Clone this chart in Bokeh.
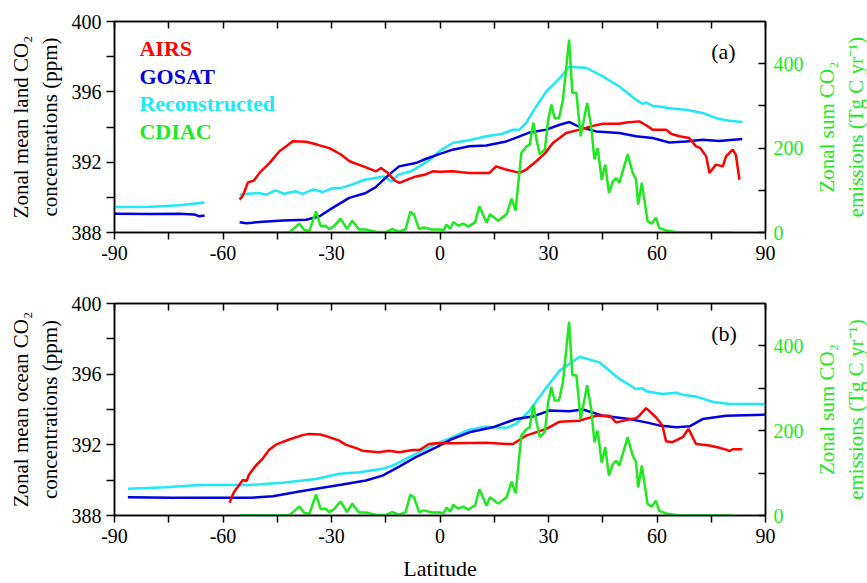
import math
from bokeh.plotting import figure
from bokeh.models import Range1d, LinearAxis, FixedTicker, Label
from bokeh.layouts import column, row
from bokeh.embed import file_html
from bokeh.resources import INLINE

NaN = float("nan")

# ---------------- data ----------------
# (a) land
land_airs_lat = [-55.4, -54.5, -53.1, -51.5, -49.9, -47.1, -44.4, -42.5, -40.7, -37.0, -34.0, -30.6,
                 -27.5, -25.0, -21.0, -17.7, -16.3, -14.5, -12.5, -11.2, -8.5, -6.6, -4.0, -2.0, 0.0,
                 3.5, 6.0, 8.1, 13.7, 15.5, 18.0, 22.0, 23.8, 26.6, 29.0, 31.2, 34.9, 38.6, 42.0, 45.0,
                 49.6, 51.5, 55.1, 57.0, 58.8, 62.5, 64.0, 66.2, 68.9, 70.8, 72.0, 73.6, 74.5, 76.3,
                 78.2, 79.1, 80.9, 81.8, 82.8]
land_airs = [389.87, 390.10, 390.85, 390.95, 391.39, 391.96, 392.62, 392.90, 393.19, 393.16, 393.00, 392.80,
             392.45, 392.05, 391.75, 391.48, 391.67, 391.40, 390.95, 390.82, 391.05, 391.19, 391.30, 391.48, 391.45,
             391.48, 391.42, 391.39, 391.39, 391.76, 391.60, 391.39, 391.57, 392.05, 392.50, 393.09, 393.66, 393.85, 394.05, 394.19,
             394.19, 394.26, 394.32, 394.10, 393.85, 393.85, 393.60, 393.47, 393.37, 392.90, 392.80, 392.33, 391.39, 391.86,
             391.76, 392.33, 392.71, 392.43, 391.00]

land_gosat_lat = [-90, -80, -72, -68, -66.5, -65.1, NaN,
                  -55.4, -53.5, -52, -50, -43.4, -37, -33.3, -29.7, -25.1, -20.5, -17.7, -14.1, -11.3, -6.7,
                  -4.0, 0, 3.5, 8.1, 12.8, 18.3, 22, 24.8, 29.4, 33.1, 35.8, 38.6, 43.2, 49.6, 54.2, 58.8,
                  63.4, 68, 72.6, 77.2, 83.6]
land_gosat = [389.06, 389.05, 389.06, 389.03, 388.92, 388.97, NaN,
              388.58, 388.52, 388.55, 388.60, 388.68, 388.73, 388.92, 389.40, 389.97, 390.25, 390.59, 391.29, 391.76, 391.95,
              392.18, 392.47, 392.71, 392.90, 392.95, 393.18, 393.47, 393.69, 393.85, 394.13, 394.28, 394.00, 393.75, 393.66, 393.47, 393.37,
              393.12, 393.18, 393.28, 393.20, 393.32]

land_rec_lat = [-90, -80, -72, -65.1, NaN,
                -55.4, -53, -50, -48, -45.5, -43, -40, -38, -35, -32.5, -30, -27, -24, -20.9, -18, -15.4,
                -13.5, -11.5, -8, -5.7, -3, 0, 3.5, 8, 12.8, 17, 20.2, 22, 23.8, 26.6, 29.4, 33.1, 35.8,
                37.7, 40.4, 45, 49.6, 54.2, 56, 57, 58.8, 60.6, 64, 68, 72.6, 77.2, 80, 83.6]
land_rec = [389.45, 389.47, 389.55, 389.70, NaN,
            390.15, 390.20, 390.25, 390.15, 390.40, 390.20, 390.35, 390.20, 390.45, 390.30, 390.50, 390.55, 390.75, 391.00, 391.10, 391.19,
            390.90, 391.29, 391.48, 391.76, 392.10, 392.65, 393.09, 393.25, 393.47, 393.60, 393.85, 393.85, 394.23, 395.17, 396.02, 396.78, 397.44,
            397.40, 397.37, 396.88, 396.30, 395.55, 395.32, 395.40, 395.20, 395.17, 395.05, 394.98, 394.80, 394.45, 394.35, 394.28]

# (b) ocean
ocean_airs_lat = [-58.2, -57, -54.5, -53.5, -52.8, -50.9, -49.1, -47.3, -45.4, -41.7, -38, -36.2, -33, -31.6,
                  -28, -26.1, -23, -21.5, -16.9, -14.1, -11.3, -7.6, -5.7, -3.0, -1.1, 3.5, 12.8, 18.3, 20.2,
                  23.8, 29.4, 33.1, 38.6, 43.2, 46.9, 48.7, 51.5, 54.2, 55.1, 57.0, 59.7, 61.5, 62.5, 64.3,
                  67.1, 68.7, 70.8, 74.5, 77, 79.1, 80, 81, 83.6]
ocean_airs = [388.72, 389.32, 390.01, 389.95, 390.32, 390.83, 391.20, 391.71, 392.01, 392.30, 392.55, 392.62, 392.58, 392.50,
              392.25, 392.01, 391.80, 391.67, 391.58, 391.67, 391.58, 391.71, 391.71, 392.05, 392.09, 392.09, 392.12, 392.05, 392.05,
              392.52, 392.90, 393.31, 393.37, 393.65, 393.65, 393.27, 393.40, 393.50, 393.65, 394.08, 393.56, 393.09, 392.20, 392.15,
              392.43, 392.90, 392.05, 391.96, 391.85, 391.73, 391.65, 391.75, 391.75]

ocean_gosat_lat = [-86.3, -73.9, -60, -52.7, -46.2, -38.9, -34.3, -27.8, -20.5, -15.9, -11.3, -6.7, -1.1, 3,
                   8.1, 14.6, 21.0, 25.6, 30.2, 35.8, 39.5, 45.0, 52.4, 57.0, 60.6, 65.3, 69.0, 72.6, 79.1, 90]
ocean_gosat = [389.03, 389.00, 389.00, 389.00, 389.09, 389.36, 389.51, 389.73, 389.98, 390.26, 390.77, 391.30, 391.86, 392.30,
               392.71, 392.99, 393.46, 393.60, 393.94, 393.90, 394.00, 393.65, 393.46, 393.27, 393.10, 392.99, 393.05, 393.46, 393.65, 393.71]

ocean_rec_lat = [-86.3, -75.7, -66.5, -52.7, -43.5, -34.3, -27.8, -22.3, -15.9, -13.1, -9.4, -5.8, -1.2, 3.5,
                 8.1, 12.8, 18.3, 21.0, 24.8, 29.4, 33.1, 38.6, 44.1, 49.6, 54.2, 56, 57, 61.5, 65.3, 67.1,
                 70.8, 75.4, 80, 90]
ocean_rec = [389.51, 389.60, 389.73, 389.73, 389.85, 390.07, 390.36, 390.45, 390.64, 390.83, 391.20, 391.58, 392.05, 392.43,
             392.86, 393.03, 392.96, 393.18, 393.94, 395.25, 396.20, 396.99, 396.67, 395.73, 395.16, 395.20, 395.03, 394.88, 394.95, 394.84,
             394.73, 394.44, 394.31, 394.31]

# CDIAC zonal sum emissions (Tg C / yr), same in both panels
cdiac_lat = [-55.4, -44.4, -41.6, -38.9, -37.5, -36.1, -34.3, -33.0, -31.6, -30.7, -29.3, -27.5, -25.7, -24.3,
             -22.4, -20.5, -17.8, -15.1, -13.2, -11.3, -9.5, -8.2, -7.2, -5.8, -4.5, -2.2, 0, 1.0, 1.8, 2.8,
             3.7, 5.1, 6.4, 7.8, 9.7, 10.9, 12.9, 13.8, 16.1, 18.4, 19.8, 20.9, 22.5, 23.9, 24.8, 25.8, 26.7,
             27.6, 29.0, 29.9, 30.8, 31.7, 32.9, 34.0, 35.7, 36.6, 37.7, 38.9, 40.7, 41.8, 42.7, 43.6, 44.7,
             45.7, 46.7, 47.8, 48.7, 49.6, 51.9, 53.3, 54.2, 54.8, 55.8, 57.4, 58.5, 59.7, 60.6, 62.9, 66.1, 80.9]
cdiac = [0, 0, 1, 21, 6, 4, 50, 15, 16, 8, 15, 33, 8, 28,
         7, 7, 2, 1, 8, 2, 8, 49, 43, 8, 12, 7, 7, 5, 19, 9,
         25, 16, 21, 14, 24, 62, 23, 43, 28, 43, 80, 52, 189, 204, 208, 260, 220,
         185, 197, 267, 303, 271, 271, 315, 457, 331, 331, 228, 307, 252, 173, 200, 125,
         161, 94, 121, 129, 118, 185, 141, 126, 66, 118, 27, 21, 35, 11, 4, 0, 0]

legend_names = ["AIRS", "GOSAT", "Reconstructed", "CDIAC"]
right_label = "Zonal sum CO\u2082\nemissions (Tg C yr\u207b\u00b9)"
x_ticks = [-90, -60, -30, 0, 30, 60, 90]
x_tick_labels = ["-90", "-60", "-30", "0", "30", "60", "90"]
x_minor = [-75, -45, -15, 15, 45, 75]
y_ticks = [388, 392, 396, 400]
y_minor = [390, 394, 398]
r_ticks = [0, 200, 400]
r_minor = [100, 300]

RED = "#ff0000"
BLUE = "#0000e0"
CYAN = "#1ee8f5"
GREEN = "#1ee81e"
FONT = "Liberation Serif"
MAIN_W = 813
SIDE_W = 54


def style_axis(ax):
    ax.axis_line_color = "black"
    ax.axis_line_width = 1.5
    ax.major_tick_line_color = "black"
    ax.minor_tick_line_color = "black"
    ax.major_tick_line_width = 1.5
    ax.minor_tick_line_width = 1.5
    ax.major_label_text_font = FONT
    ax.major_label_text_font_size = "20px"
    ax.major_label_text_color = "black"
    ax.axis_label_text_font = FONT
    ax.axis_label_text_font_style = "normal"
    ax.axis_label_text_font_size = "21px"
    ax.axis_label_text_color = "black"


def make_panel(height, top, bottom, ylabel, tag, airs_lat, airs, gosat_lat, gosat, rec_lat, rec,
               show_legend, xlabel):
    p = figure(width=MAIN_W, height=height, x_range=Range1d(-90, 90), y_range=Range1d(388, 400),
               output_backend="svg", toolbar_location=None,
               min_border_left=114, min_border_right=MAIN_W - 765, min_border_top=top,
               min_border_bottom=bottom)
    p.extra_y_ranges = {"emis": Range1d(0, 500)}
    p.grid.visible = False
    p.outline_line_color = "black"
    p.outline_line_width = 1.5

    # bottom x axis
    xa = p.xaxis[0]
    style_axis(xa)
    xa.ticker = FixedTicker(ticks=x_ticks, minor_ticks=x_minor)
    xa.major_label_overrides = dict(zip(x_ticks, x_tick_labels))
    xa.major_tick_out = 7
    xa.major_tick_in = 0
    xa.minor_tick_out = 7
    xa.minor_tick_in = 0
    xa.major_label_standoff = 6
    if xlabel:
        xa.axis_label = xlabel
        xa.axis_label_text_font_size = "22px"
        xa.axis_label_standoff = 10

    # left y axis
    ya = p.yaxis[0]
    style_axis(ya)
    ya.ticker = FixedTicker(ticks=y_ticks, minor_ticks=y_minor)
    ya.major_tick_out = 8
    ya.major_tick_in = 0
    ya.minor_tick_out = 8
    ya.minor_tick_in = 0
    ya.major_label_standoff = 5
    ya.axis_label = ylabel
    ya.axis_label_standoff = 7

    # top axis (ticks only, inward)
    ta = LinearAxis(ticker=FixedTicker(ticks=x_ticks, minor_ticks=x_minor))
    style_axis(ta)
    ta.major_tick_in = 7
    ta.major_tick_out = 0
    ta.minor_tick_in = 7
    ta.minor_tick_out = 0
    ta.major_label_overrides = {t: "" for t in x_ticks}
    ta.major_label_standoff = 0
    p.add_layout(ta, "above")

    # right axis (emissions)
    ra = LinearAxis(y_range_name="emis", ticker=FixedTicker(ticks=r_ticks, minor_ticks=r_minor))
    style_axis(ra)
    ra.major_tick_in = 7
    ra.major_tick_out = 0
    ra.minor_tick_in = 7
    ra.minor_tick_out = 0
    ra.major_label_text_color = GREEN
    ra.major_label_standoff = 8
    p.add_layout(ra, "right")

    p.line(rec_lat, rec, line_color=CYAN, line_width=2.5)
    p.line(gosat_lat, gosat, line_color=BLUE, line_width=2.5)
    p.line(airs_lat, airs, line_color=RED, line_width=2.5)
    p.line(cdiac_lat, cdiac, line_color=GREEN, line_width=2.5, y_range_name="emis")

    p.add_layout(Label(x=75.0, y=398.3, text=tag, text_font=FONT, text_font_size="22px",
                       text_baseline="middle", text_align="left", text_color="black"))

    if show_legend:
        cols = [RED, BLUE, CYAN, GREEN]
        ys = [398.45, 396.86, 395.32, 393.72]
        for name, c, yy in zip(legend_names, cols, ys):
            p.add_layout(Label(x=-83.1, y=yy, text=name, text_font=FONT, text_font_size="22px",
                               text_font_style="bold", text_color=c, text_baseline="middle",
                               text_align="left"))

    # side strip carrying the right-hand (emissions) axis title, reading upward
    s = figure(width=SIDE_W, height=height, x_range=Range1d(0, 1), y_range=Range1d(0, 500),
               output_backend="svg", toolbar_location=None, x_axis_location=None,
               y_axis_location="left", min_border_left=SIDE_W - 4, min_border_right=0,
               min_border_top=top, min_border_bottom=bottom)
    s.grid.visible = False
    s.outline_line_color = None
    sa = s.yaxis[0]
    style_axis(sa)
    sa.ticker = FixedTicker(ticks=[])
    sa.axis_line_color = None
    sa.major_tick_out = 0
    sa.minor_tick_out = 0
    sa.axis_label = right_label
    sa.axis_label_text_color = GREEN
    sa.axis_label_standoff = 0
    return row(p, s)


r1 = make_panel(288, 21, 56, "Zonal mean land CO\u2082\nconcentrations (ppm)", "(a)",
                land_airs_lat, land_airs, land_gosat_lat, land_gosat, land_rec_lat, land_rec,
                True, None)
r2 = make_panel(295, 15, 68, "Zonal mean ocean CO\u2082\nconcentrations (ppm)", "(b)",
                ocean_airs_lat, ocean_airs, ocean_gosat_lat, ocean_gosat, ocean_rec_lat, ocean_rec,
                False, "Latitude")

layout = column(r1, r2)
open("out.html", "w").write(file_html(layout, INLINE))
